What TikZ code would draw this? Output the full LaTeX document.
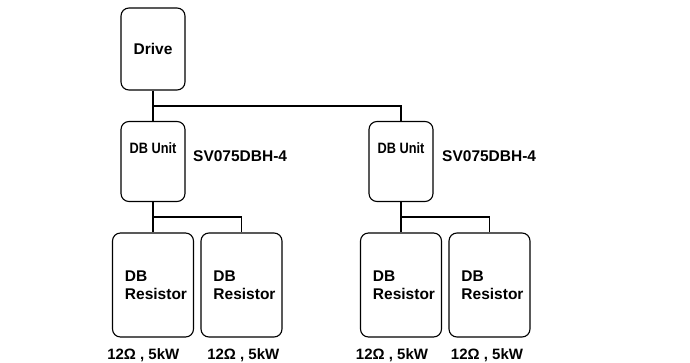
\documentclass[tikz,border=0pt]{standalone}
\usepackage{fontspec}
\setmainfont{Liberation Sans}
\begin{document}
\begin{tikzpicture}[x=1pt,y=-1pt,
  box/.style={draw=black,line width=1.1pt,rounded corners=8pt,inner sep=0pt},
  drivebox/.style={box,minimum width=64pt,minimum height=82pt,
    font=\fontsize{15.5}{18.3}\selectfont\bfseries},
  unitbox/.style={box,minimum width=64pt,minimum height=80pt},
  resbox/.style={box,minimum width=81pt,minimum height=104pt},
  unittext/.style={inner sep=0pt,font=\fontsize{15}{18}\selectfont\bfseries},
  modeltext/.style={inner sep=0pt,font=\fontsize{15.5}{18.3}\selectfont\bfseries},
  restext/.style={inner sep=0pt,align=left,font=\fontsize{15.5}{18.3}\selectfont\bfseries},
  valtext/.style={inner sep=0pt,font=\fontsize{15}{18}\selectfont\bfseries},
  conn/.style={draw=black,line width=1.4pt},
  bus/.style={draw=black,line width=2.1pt}]
\useasboundingbox (0,0) rectangle (690,363);
% boxes
\node[drivebox] (drive) at (153,49) {Drive};
\node[unitbox] (u1) at (153,161.5) {};
\node[unitbox] (u2) at (401,161.5) {};
\node[resbox] (r1) at (153,285) {};
\node[resbox] (r2) at (241.5,285) {};
\node[resbox] (r3) at (401,285) {};
\node[resbox] (r4) at (489.5,285) {};
% texts
\node[unittext,anchor=base] (t1) at (153,153.3) {\scalebox{0.85}[1]{DB Unit}};
\node[unittext,anchor=base] (t2) at (401,153.3) {\scalebox{0.85}[1]{DB Unit}};
\node[modeltext,anchor=base west] (m1) at (193,161.7) {SV075DBH-4};
\node[modeltext,anchor=base west] (m2) at (442,161.7) {SV075DBH-4};
\node[restext] (rt1) at ([xshift=3pt]r1.center) {DB\\Resistor};
\node[restext] (rt2) at ([xshift=3pt]r2.center) {DB\\Resistor};
\node[restext] (rt3) at ([xshift=3pt]r3.center) {DB\\Resistor};
\node[restext] (rt4) at ([xshift=3pt]r4.center) {DB\\Resistor};
\node[valtext,anchor=base] (v1) at (143.3,359) {12Ω , 5kW};
\node[valtext,anchor=base] (v2) at (243.3,359) {12Ω , 5kW};
\node[valtext,anchor=base] (v3) at (392,359) {12Ω , 5kW};
\node[valtext,anchor=base] (v4) at (487,359) {12Ω , 5kW};
% connectors
\coordinate (j1) at (153,106);
\coordinate (j2) at (153,217);
\coordinate (j3) at (401,217);
\draw[conn] (drive.south) -- (u1.north);
\draw[bus] (j1) -| (u2.north);
\draw[conn] (u1.south) -- (r1.north);
\draw[conn] (j2) -| (r2.north);
\draw[conn] (u2.south) -- (r3.north);
\draw[conn] (j3) -| (r4.north);
\end{tikzpicture}
\end{document}
